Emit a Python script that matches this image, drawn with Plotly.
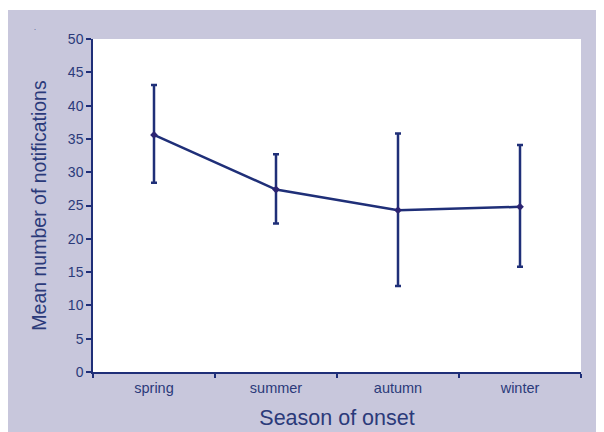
import plotly.graph_objects as go

seasons = ["spring", "summer", "autumn", "winter"]
mean_notifications = [35.6, 27.4, 24.3, 24.8]
err_plus = [7.5, 5.3, 11.5, 9.3]
err_minus = [7.2, 5.1, 11.4, 9.0]
y_ticks = [0, 5, 10, 15, 20, 25, 30, 35, 40, 45, 50]

navy = "#1f2f78"
text_col = "#2b3a7a"
lavender = "#c8c7dc"

# page body offsets the figure by 8px; size figure so it fills to the window edge
OFF = 8
W, H = 604 - OFF, 432 - OFF
L, R, T, B = 93 - OFF, 23, 39 - OFF, 60
pw, ph = W - L - R, H - T - B

def px_x(p):
    return (p - OFF - L) / pw

def px_y(p):
    return (H + OFF - B - p) / ph

fig = go.Figure()
fig.add_trace(go.Scatter(
    x=seasons, y=mean_notifications, mode="lines+markers",
    line=dict(color=navy, width=2.5),
    marker=dict(symbol="diamond", size=6, color="#2c2472"),
    error_y=dict(type="data", symmetric=False, array=err_plus, arrayminus=err_minus,
                 color=navy, thickness=2.5, width=3),
    showlegend=False, cliponaxis=False,
))

fig.update_layout(
    width=W, height=H,
    margin=dict(l=L, r=R, t=T, b=B, autoexpand=False),
    paper_bgcolor=lavender, plot_bgcolor="white",
    font=dict(family="Liberation Sans, Arial, sans-serif", color=text_col),
    shapes=[
        dict(type="rect", xref="paper", yref="paper", x0=px_x(-5), x1=px_x(610),
             y0=px_y(10), y1=px_y(-5), fillcolor="white", line=dict(width=0), layer="below"),
    ],
    annotations=[
        dict(text=".", xref="paper", yref="paper", x=px_x(32), y=px_y(22),
             showarrow=False, font=dict(size=7, color=text_col)),
    ],
)

fig.update_xaxes(
    type="category", range=[-0.5, 3.5], showline=True, linecolor=navy, linewidth=1.5,
    ticks="outside", tickson="boundaries", ticklen=4, tickcolor=navy, tickwidth=1.5,
    ticklabelstandoff=2,
    tickfont=dict(size=14.5, color=text_col), showgrid=False, zeroline=False,
    title=dict(text="Season of onset", font=dict(size=21.5, color=text_col), standoff=15),
    automargin=False,
)
fig.update_yaxes(
    range=[0, 50], tickvals=y_ticks, showline=True, linecolor=navy, linewidth=1.5,
    ticks="outside", ticklen=5, tickcolor=navy, tickwidth=1.5,
    tickfont=dict(size=14, color=text_col), showgrid=False, zeroline=False,
    title=dict(text="Mean number of notifications", font=dict(size=19.5, color=text_col), standoff=16),
    automargin=False,
)

fig.write_html("out.html")
